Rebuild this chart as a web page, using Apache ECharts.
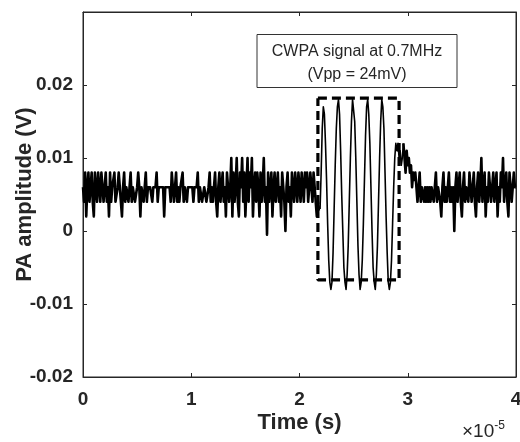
<!DOCTYPE html>
<html><head><meta charset="utf-8">
<script src="https://cdn.jsdelivr.net/npm/echarts@6/dist/echarts.min.js"></script>
<style>html,body{margin:0;padding:0;background:#fff}#c{width:520px;height:442px}</style>
</head><body><div id="c"></div>
<script>
// sample spacing (s)
var dt = 1e-7;
// PA amplitude samples in mV, one every dt starting at t = 0
var preBurst = [
 6,4,8,2,6,8,4,6,8,4,2,8,6,4,8,6,4,8,6,4,
 6,8,4,6,2,8,4,6,6,8,4,4,6,8,6,4,2,6,8,4,
 6,6,4,6,8,4,6,6,4,4,6,8,6,2,6,6,4,6,8,4,
 6,6,6,6,4,6,6,6,8,4,6,6,6,6,6,2,6,6,6,6,
 6,4,8,6,4,6,8,4,6,4,6,6,8,4,6,6,4,6,6,6,
 6,6,4,6,6,6,8,4,6,6,4,4,6,6,4,4,6,8,4,6,
 4,6,8,4,2,6,8,4,6,8,4,6,2,8,6,4,6,10,2,8,
 4,6,10,4,2,8,6,10,4,8,2,6,10,4,8,6,10,2,6,8,
 4,8,6,2,8,4,6,10,4,6,-0.5,8,4,6,8,2,6,8,4,6,
 8,4,6,2,8,6,4,0,6,8,4,6,2,8,6,4,8,6,4,8,
 6,4,8,6,4,8,6,8,4,6,8,6,4,8,6,4,2,4,3,3
];
var burst = [
 8,14,17,16,12,7,1,-4,-7,-8,-7,-3,3,9,14,17,18,16,11,5,
 0,-5,-7,-8,-6,-2,4,10,15,18,18,15,10,4,-2,-6,-8,-7,-4,1,
 7,13,17,18,16,12,6,0,-5,-7,-8,-6,-2,4,10,15,18,17,14,8,
 2,-3,-7,-8,-7,-4,1,6,10,12,11,12,10,11,9,10
];
var postBurst = [
 12,10,8,11,9,10,8,9,6,8,7,8,6,4,6,8,4,6,6,4,6,4,6,4,
 6,4,6,6,4,6,8,4,6,6,4,2,6,8,4,6,4,6,8,4,
 6,4,6,0,6,8,4,6,8,4,2,6,8,4,6,6,4,8,6,4,
 6,8,4,2,6,8,4,6,10,4,6,8,2,6,4,8,6,4,6,8,
 4,6,8,2,6,4,8,6,10,4,6,8,4,2,8,6,4,6,8,6,6
];
// dashed envelope box around the burst
var boxT = [2.17e-5, 2.92e-5, 2.92e-5, 2.17e-5, 2.17e-5];
var boxV = [0.0182, 0.0182, -0.0067, -0.0067, 0.0182];
// axis ticks
var xTicks = [0, 1e-5, 2e-5, 3e-5, 4e-5];
var yTicks = [-0.02, -0.01, 0, 0.01, 0.02, 0.03];

function toPts(arr, start) {
  return arr.map(function (v, i) { return [(start + i) * dt, v / 1000]; });
}
var n1 = preBurst.length, n2 = burst.length;
var noiseA = toPts(preBurst, 0);
var burstPts = toPts([preBurst[n1 - 1]].concat(burst, [postBurst[0]]), n1 - 1);
var noiseB = toPts(postBurst, n1 + n2);
var box = boxT.map(function (t, i) { return [t, boxV[i]]; });

var txt = '#262626';
var font = 'Liberation Sans, Arial, sans-serif';
function sideAxis(pos) {
  return {
    type: 'value', position: pos, min: pos === 'top' ? xTicks[0] : yTicks[0],
    max: pos === 'top' ? xTicks[xTicks.length - 1] : yTicks[yTicks.length - 1],
    interval: pos === 'top' ? 1e-5 : 0.01,
    axisLine: {show: true, onZero: false, lineStyle: {color: txt}},
    axisTick: {show: true, inside: true, length: 4, lineStyle: {color: txt}},
    axisLabel: {show: false}, splitLine: {show: false}
  };
}
var chart = echarts.init(document.getElementById('c'));
chart.setOption({
  animation: false,
  grid: {left: 83, right: 4, top: 12, bottom: 65, show: true, borderColor: txt, borderWidth: 1,
         containLabel: false, outerBoundsMode: 'none'},
  xAxis: [{
    type: 'value', min: xTicks[0], max: xTicks[xTicks.length - 1], interval: 1e-5,
    axisLine: {show: true, onZero: false, lineStyle: {color: txt}},
    axisTick: {show: true, inside: true, length: 4, lineStyle: {color: txt}},
    splitLine: {show: false},
    axisLabel: {color: txt, fontFamily: font, fontWeight: 'bold', fontSize: 19, margin: 13,
      formatter: function (v) { return String(Math.round(v / 1e-5)); }},
    name: 'Time (s)', nameLocation: 'middle', nameGap: 35, nameMoveOverlap: false,
    nameTextStyle: {color: txt, fontFamily: font, fontWeight: 'bold', fontSize: 22}
  }, sideAxis('top')],
  yAxis: [{
    type: 'value', min: yTicks[0], max: yTicks[yTicks.length - 1], interval: 0.01,
    axisLine: {show: true, onZero: false, lineStyle: {color: txt}},
    axisTick: {show: true, inside: true, length: 4, lineStyle: {color: txt}},
    splitLine: {show: false},
    axisLabel: {color: txt, fontFamily: font, fontWeight: 'bold', fontSize: 19, margin: 10,
      formatter: function (v) {
        var r = Math.round(v * 100);
        if (r === 3) return '';
        return r === 0 ? '0' : (r / 100).toFixed(2);
      }},
    name: 'PA amplitude (V)', nameLocation: 'middle', nameGap: 47, nameMoveOverlap: false,
    nameTextStyle: {color: txt, fontFamily: font, fontWeight: 'bold', fontSize: 22}
  }, sideAxis('right')],
  series: [{
    type: 'line', data: noiseA, showSymbol: false, symbol: 'none',
    lineStyle: {color: '#000', width: 2.6, join: 'round'}, z: 3
  }, {
    type: 'line', data: burstPts, showSymbol: false, symbol: 'none',
    lineStyle: {color: '#000', width: 1.6, join: 'round'}, z: 3
  }, {
    type: 'line', data: noiseB, showSymbol: false, symbol: 'none',
    lineStyle: {color: '#000', width: 2.6, join: 'round'}, z: 3
  }, {
    type: 'line', data: box, showSymbol: false, symbol: 'none',
    lineStyle: {color: '#000', width: 3.2, type: [9, 5]}, z: 4
  }],
  graphic: [{
    type: 'rect', shape: {x: 257, y: 34.5, width: 200, height: 53},
    style: {fill: '#fff', stroke: '#333', lineWidth: 1}, z: 10
  }, {
    type: 'text', x: 357, y: 52, z: 11,
    style: {text: 'CWPA signal at 0.7MHz', fill: txt, font: '16px ' + font, align: 'center', verticalAlign: 'middle'}
  }, {
    type: 'text', x: 357, y: 75, z: 11,
    style: {text: '(Vpp = 24mV)', fill: txt, font: '16px ' + font, align: 'center', verticalAlign: 'middle'}
  }, {
    type: 'text', x: 462, y: 432, z: 11,
    style: {text: '×10{s|-5}', fill: txt, font: '19px ' + font, verticalAlign: 'middle',
      rich: {s: {fontSize: 12, fontFamily: font, fill: txt, padding: [0, 0, 12, 0]}}}
  }]
});
</script></body></html>
